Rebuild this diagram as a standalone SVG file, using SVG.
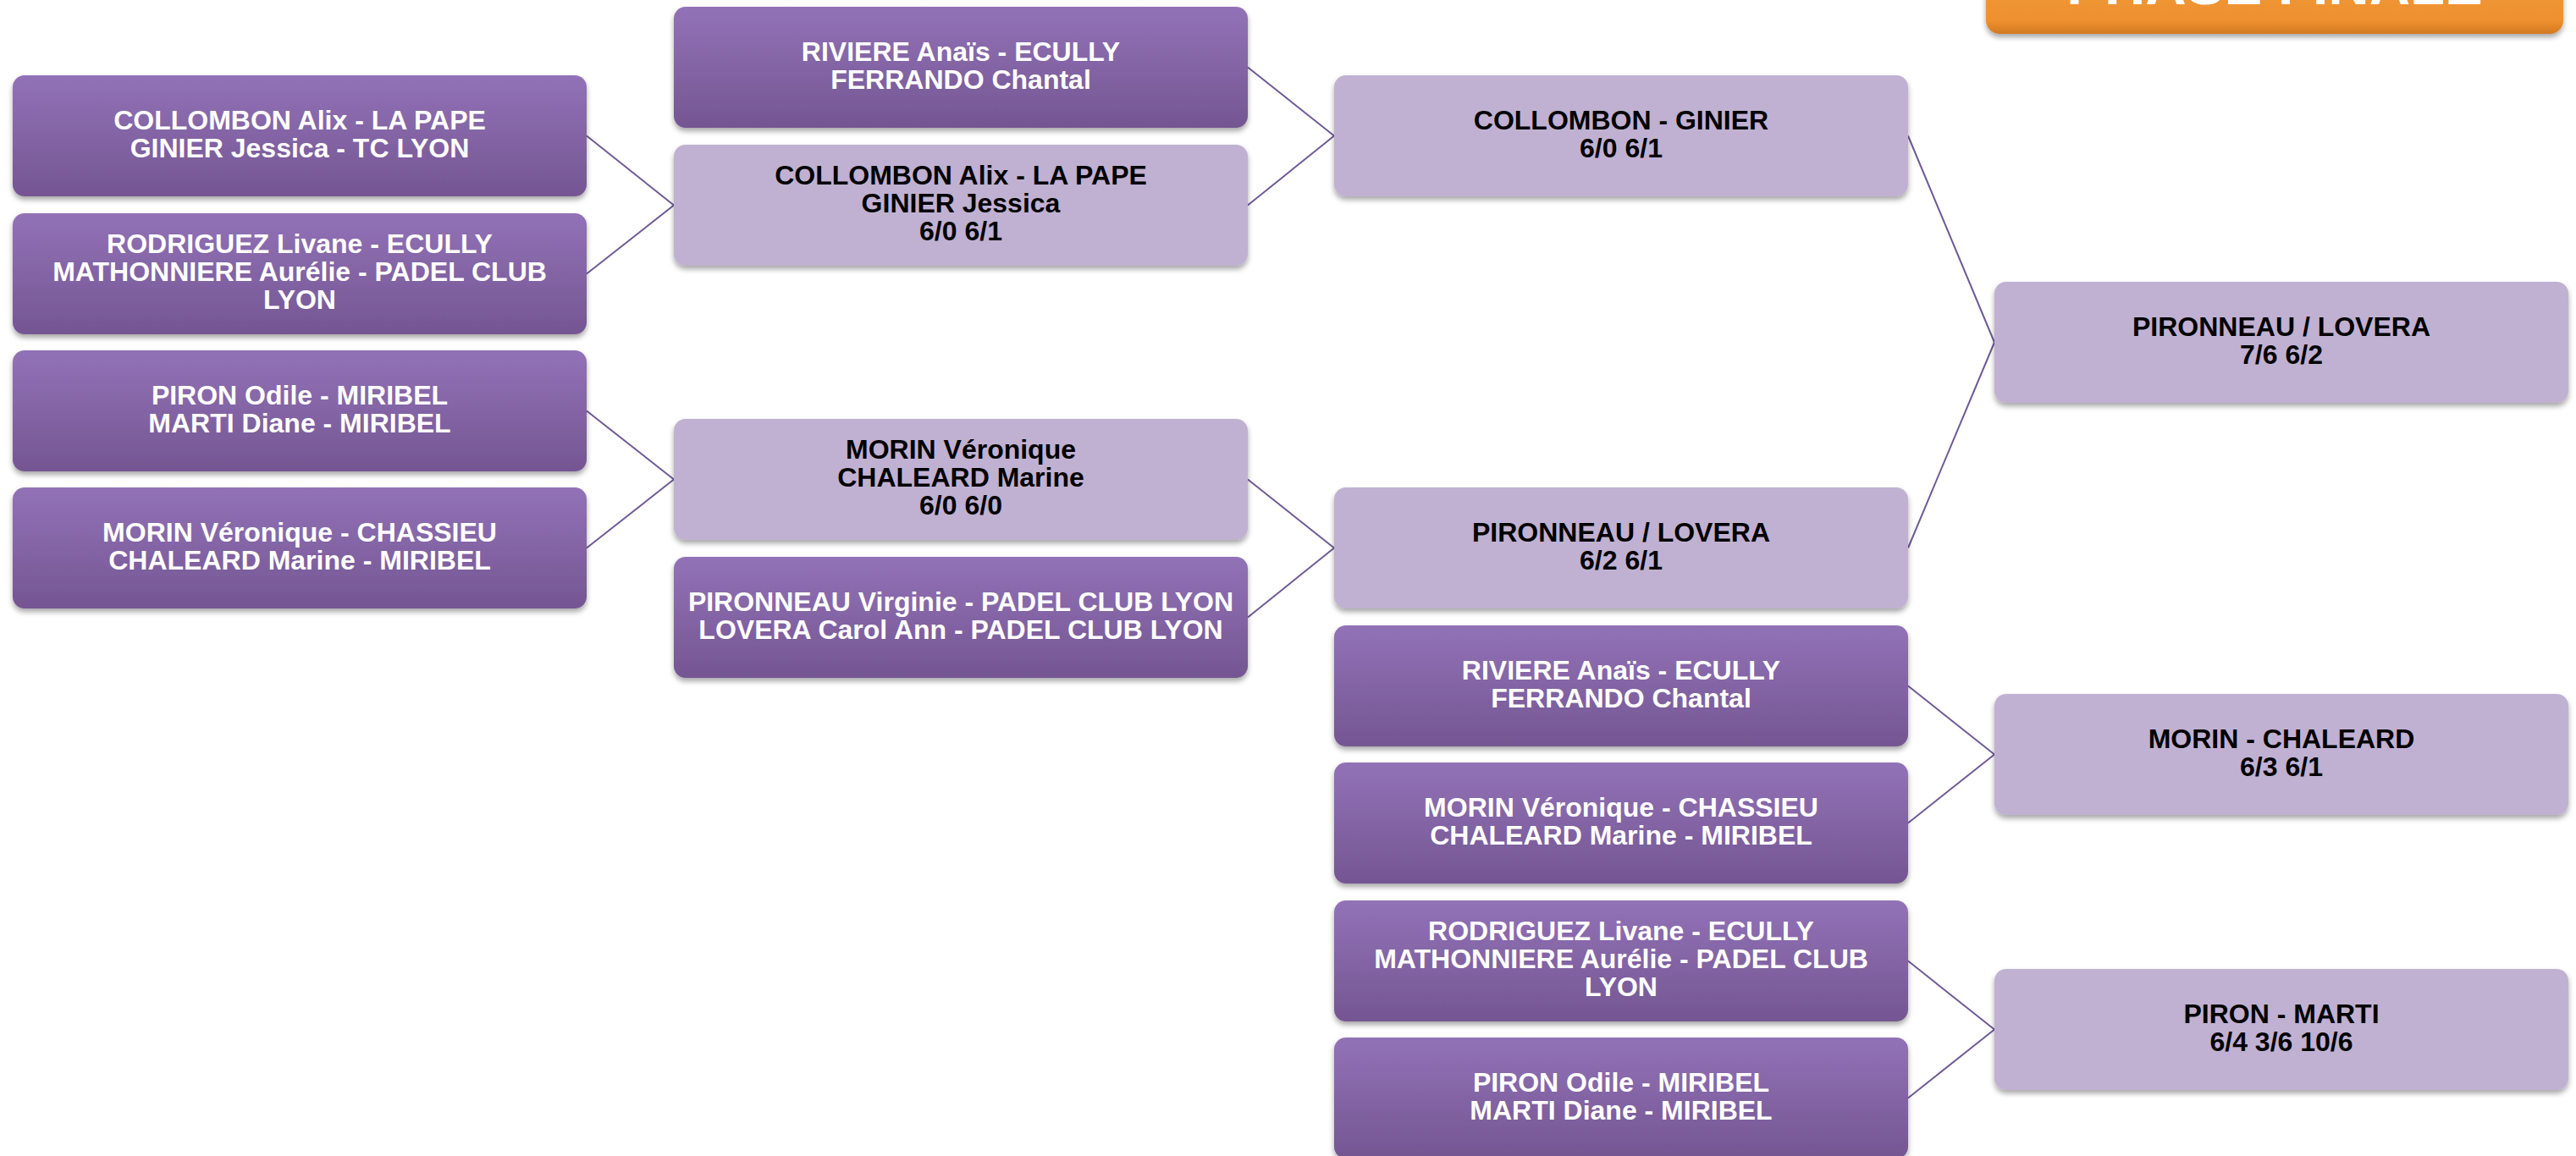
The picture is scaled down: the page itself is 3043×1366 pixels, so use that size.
<svg xmlns="http://www.w3.org/2000/svg" width="3043" height="1366" viewBox="0 0 3043 1366">
<defs>
<linearGradient id="gDark" x1="0" y1="0" x2="0" y2="1">
<stop offset="0" stop-color="#9272B7"/>
<stop offset="1" stop-color="#745692"/>
</linearGradient>
<linearGradient id="gOrange" x1="0" y1="0" x2="0" y2="1">
<stop offset="0" stop-color="#F29C3E"/>
<stop offset="0.8" stop-color="#EE902E"/>
<stop offset="1" stop-color="#D27A22"/>
</linearGradient>
<filter id="sh" x="-5%" y="-10%" width="110%" height="125%">
<feDropShadow dx="0" dy="4" stdDeviation="3" flood-color="#000" flood-opacity="0.35"/>
</filter>
</defs>
<style>
.dark{fill:url(#gDark);filter:url(#sh)}
.light{fill:#C0B1D2;filter:url(#sh)}
.orange{fill:url(#gOrange);filter:url(#sh)}
text{font-family:"Liberation Sans",Arial,sans-serif;font-weight:bold;font-size:32px;text-anchor:middle}
.tw{fill:#FFFFFF}
.tb{fill:#000000}
.conn line{stroke:#6E5A96;stroke-width:2;fill:none}
</style>
<rect width="3043" height="1366" fill="#FFFFFF"/>
<g id="connectors" class="conn">
<line x1="693" y1="160.5" x2="796" y2="242.5"/>
<line x1="693" y1="323.5" x2="796" y2="242.5"/>
<line x1="693" y1="485.5" x2="796" y2="566.5"/>
<line x1="693" y1="647.5" x2="796" y2="566.5"/>
<line x1="1474" y1="79.5" x2="1576" y2="160.5"/>
<line x1="1474" y1="242.5" x2="1576" y2="160.5"/>
<line x1="1474" y1="566.5" x2="1576" y2="647.5"/>
<line x1="1474" y1="729.5" x2="1576" y2="647.5"/>
<line x1="2254" y1="160.5" x2="2356" y2="404.5"/>
<line x1="2254" y1="647.5" x2="2356" y2="404.5"/>
<line x1="2254" y1="810.5" x2="2356" y2="891.5"/>
<line x1="2254" y1="972.5" x2="2356" y2="891.5"/>
<line x1="2254" y1="1135.5" x2="2356" y2="1216.5"/>
<line x1="2254" y1="1297.5" x2="2356" y2="1216.5"/>
</g>
<g id="title">
<rect class="orange" x="2346" y="-40" width="682" height="80" rx="16"/>
<text class="tw" x="2687" y="5" style="font-size:67px">PHASE FINALE</text>
</g>
<!-- Column 1 -->
<g id="c1n1">
<rect class="dark" x="15" y="89" width="678" height="143" rx="14"/>
<text class="tw" x="354" y="153">COLLOMBON Alix - LA PAPE</text>
<text class="tw" x="354" y="186">GINIER Jessica - TC LYON</text>
</g>
<g id="c1n2">
<rect class="dark" x="15" y="252" width="678" height="143" rx="14"/>
<text class="tw" x="354" y="299">RODRIGUEZ Livane - ECULLY</text>
<text class="tw" x="354" y="332">MATHONNIERE Aurélie - PADEL CLUB</text>
<text class="tw" x="354" y="365">LYON</text>
</g>
<g id="c1n3">
<rect class="dark" x="15" y="414" width="678" height="143" rx="14"/>
<text class="tw" x="354" y="478">PIRON Odile - MIRIBEL</text>
<text class="tw" x="354" y="511">MARTI Diane - MIRIBEL</text>
</g>
<g id="c1n4">
<rect class="dark" x="15" y="576" width="678" height="143" rx="14"/>
<text class="tw" x="354" y="640">MORIN Véronique - CHASSIEU</text>
<text class="tw" x="354" y="673">CHALEARD Marine - MIRIBEL</text>
</g>
<!-- Column 2 -->
<g id="c2n1">
<rect class="dark" x="796" y="8" width="678" height="143" rx="14"/>
<text class="tw" x="1135" y="72">RIVIERE Anaïs - ECULLY</text>
<text class="tw" x="1135" y="105">FERRANDO Chantal</text>
</g>
<g id="c2n2">
<rect class="light" x="796" y="171" width="678" height="143" rx="14"/>
<text class="tb" x="1135" y="218">COLLOMBON Alix - LA PAPE</text>
<text class="tb" x="1135" y="251">GINIER Jessica</text>
<text class="tb" x="1135" y="284">6/0 6/1</text>
</g>
<g id="c2n3">
<rect class="light" x="796" y="495" width="678" height="143" rx="14"/>
<text class="tb" x="1135" y="542">MORIN Véronique</text>
<text class="tb" x="1135" y="575">CHALEARD Marine</text>
<text class="tb" x="1135" y="608">6/0 6/0</text>
</g>
<g id="c2n4">
<rect class="dark" x="796" y="658" width="678" height="143" rx="14"/>
<text class="tw" x="1135" y="722">PIRONNEAU Virginie - PADEL CLUB LYON</text>
<text class="tw" x="1135" y="755">LOVERA Carol Ann - PADEL CLUB LYON</text>
</g>
<!-- Column 3 -->
<g id="c3n1">
<rect class="light" x="1576" y="89" width="678" height="143" rx="14"/>
<text class="tb" x="1915" y="153">COLLOMBON - GINIER</text>
<text class="tb" x="1915" y="186">6/0 6/1</text>
</g>
<g id="c3n2">
<rect class="light" x="1576" y="576" width="678" height="143" rx="14"/>
<text class="tb" x="1915" y="640">PIRONNEAU / LOVERA</text>
<text class="tb" x="1915" y="673">6/2 6/1</text>
</g>
<g id="c3n3">
<rect class="dark" x="1576" y="739" width="678" height="143" rx="14"/>
<text class="tw" x="1915" y="803">RIVIERE Anaïs - ECULLY</text>
<text class="tw" x="1915" y="836">FERRANDO Chantal</text>
</g>
<g id="c3n4">
<rect class="dark" x="1576" y="901" width="678" height="143" rx="14"/>
<text class="tw" x="1915" y="965">MORIN Véronique - CHASSIEU</text>
<text class="tw" x="1915" y="998">CHALEARD Marine - MIRIBEL</text>
</g>
<g id="c3n5">
<rect class="dark" x="1576" y="1064" width="678" height="143" rx="14"/>
<text class="tw" x="1915" y="1111">RODRIGUEZ Livane - ECULLY</text>
<text class="tw" x="1915" y="1144">MATHONNIERE Aurélie - PADEL CLUB</text>
<text class="tw" x="1915" y="1177">LYON</text>
</g>
<g id="c3n6">
<rect class="dark" x="1576" y="1226" width="678" height="143" rx="14"/>
<text class="tw" x="1915" y="1290">PIRON Odile - MIRIBEL</text>
<text class="tw" x="1915" y="1323">MARTI Diane - MIRIBEL</text>
</g>
<!-- Column 4 -->
<g id="c4n1">
<rect class="light" x="2356" y="333" width="678" height="143" rx="14"/>
<text class="tb" x="2695" y="397">PIRONNEAU / LOVERA</text>
<text class="tb" x="2695" y="430">7/6 6/2</text>
</g>
<g id="c4n2">
<rect class="light" x="2356" y="820" width="678" height="143" rx="14"/>
<text class="tb" x="2695" y="884">MORIN - CHALEARD</text>
<text class="tb" x="2695" y="917">6/3 6/1</text>
</g>
<g id="c4n3">
<rect class="light" x="2356" y="1145" width="678" height="143" rx="14"/>
<text class="tb" x="2695" y="1209">PIRON - MARTI</text>
<text class="tb" x="2695" y="1242">6/4 3/6 10/6</text>
</g>
</svg>
